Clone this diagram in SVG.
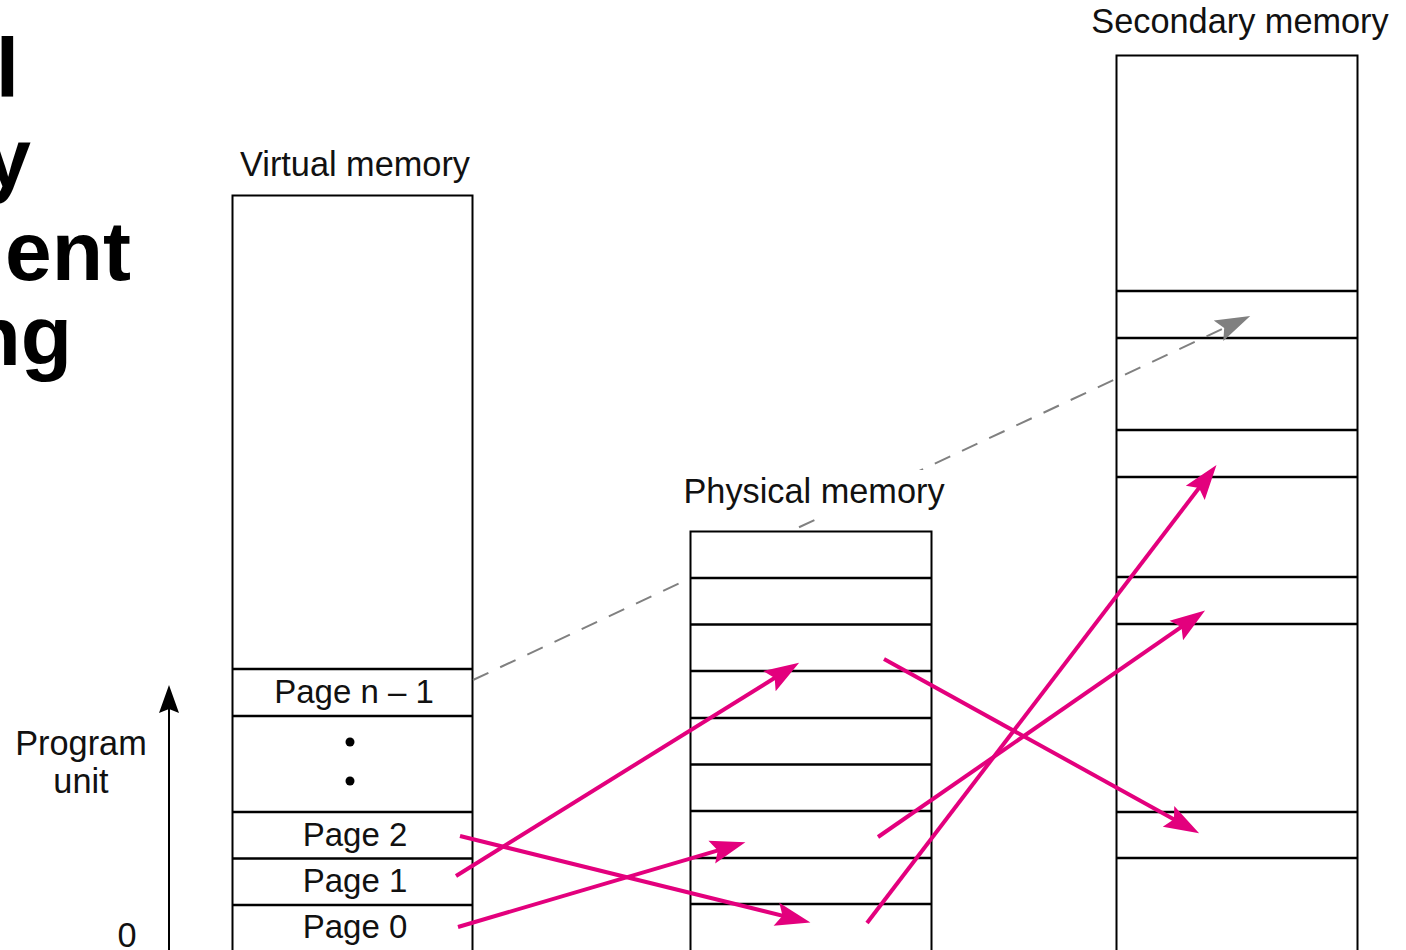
<svg xmlns="http://www.w3.org/2000/svg" width="1406" height="950" viewBox="0 0 1406 950">
<defs>
<style>
.box{fill:#ffffff;stroke:#000000;stroke-width:2}
.div{stroke:#000000;stroke-width:2.5}
.lbl{font-family:"Liberation Sans",Arial,sans-serif;font-size:33px;fill:#111111;text-anchor:middle}
.big{font-size:34.3px}
.title{font-family:"Liberation Sans",Arial,sans-serif;font-size:84px;font-weight:bold;fill:#000000;text-anchor:end}
.map{stroke:#E3007D;stroke-width:4;fill:none;marker-end:url(#mag)}
.swap{stroke:#808080;stroke-width:2;stroke-dasharray:17 13;fill:none;marker-end:url(#gray)}
</style>
<mask id="swapmask" maskUnits="userSpaceOnUse" x="0" y="0" width="1406" height="950">
<rect x="0" y="0" width="1406" height="950" fill="#ffffff"/>
<rect x="690" y="531" width="242" height="420" fill="#000000"/>
<rect x="680" y="470" width="268" height="46" fill="#000000"/>
</mask>
<marker id="mag" markerUnits="userSpaceOnUse" markerWidth="40" markerHeight="30" viewBox="0 -12 30 24" refX="18" refY="0" orient="auto">
<path d="M0,-9.5 L28,0 L0,9.5 L5,0 Z" fill="#E3007D"/>
</marker>
<marker id="gray" markerUnits="userSpaceOnUse" markerWidth="40" markerHeight="30" viewBox="0 -12 30 24" refX="18" refY="0" orient="auto">
<path d="M0,-9 L28,0 L0,9 L5,0 Z" fill="#808080"/>
</marker>
<marker id="blk" markerUnits="userSpaceOnUse" markerWidth="30" markerHeight="30" viewBox="0 -12 30 24" refX="18" refY="0" orient="auto">
<path d="M0,-10 L28,0 L0,10 L4,0 Z" fill="#000000"/>
</marker>
</defs>
<rect width="1406" height="950" fill="#ffffff"/>

<g id="title">
<text class="title" x="19" y="97">l</text>
<text class="title" x="31" y="187">y</text>
<text class="title" x="131" y="280">ent</text>
<text class="title" x="72" y="365">ng</text>
</g>

<g id="program-unit">
<text class="lbl big" x="81" y="755">Program</text>
<text class="lbl big" x="81" y="793">unit</text>
<text class="lbl big" x="127" y="947">0</text>
<line x1="169" y1="952" x2="169" y2="695" stroke="#000000" stroke-width="2" marker-end="url(#blk)"/>
</g>

<g id="virtual-memory">
<text class="lbl big" x="355" y="176">Virtual memory</text>
<rect class="box" x="232.5" y="195.5" width="240" height="770"/>
<line class="div" x1="232" y1="669" x2="473" y2="669"/>
<line class="div" x1="232" y1="716" x2="473" y2="716"/>
<line class="div" x1="232" y1="812" x2="473" y2="812"/>
<line class="div" x1="232" y1="858.5" x2="473" y2="858.5"/>
<line class="div" x1="232" y1="905" x2="473" y2="905"/>
<text class="lbl" x="354" y="703">Page n – 1</text>
<circle cx="350" cy="742" r="4.5" fill="#000000"/>
<circle cx="350" cy="781" r="4.5" fill="#000000"/>
<text class="lbl" x="355" y="846">Page 2</text>
<text class="lbl" x="355" y="892">Page 1</text>
<text class="lbl" x="355" y="938">Page 0</text>
</g>

<g id="physical-memory">
<text class="lbl big" x="814" y="503">Physical memory</text>
<rect class="box" x="690.5" y="531.5" width="241" height="430"/>
<line class="div" x1="690" y1="578" x2="932" y2="578"/>
<line class="div" x1="690" y1="624.5" x2="932" y2="624.5"/>
<line class="div" x1="690" y1="671" x2="932" y2="671"/>
<line class="div" x1="690" y1="718" x2="932" y2="718"/>
<line class="div" x1="690" y1="764.5" x2="932" y2="764.5"/>
<line class="div" x1="690" y1="811" x2="932" y2="811"/>
<line class="div" x1="690" y1="858" x2="932" y2="858"/>
<line class="div" x1="690" y1="904" x2="932" y2="904"/>
</g>

<g id="secondary-memory">
<text class="lbl big" x="1240" y="33">Secondary memory</text>
<rect class="box" x="1116.5" y="55.5" width="241" height="910"/>
<line class="div" x1="1116" y1="291" x2="1358" y2="291"/>
<line class="div" x1="1116" y1="338" x2="1358" y2="338"/>
<line class="div" x1="1116" y1="430" x2="1358" y2="430"/>
<line class="div" x1="1116" y1="477" x2="1358" y2="477"/>
<line class="div" x1="1116" y1="577" x2="1358" y2="577"/>
<line class="div" x1="1116" y1="624" x2="1358" y2="624"/>
<line class="div" x1="1116" y1="812" x2="1358" y2="812"/>
<line class="div" x1="1116" y1="858" x2="1358" y2="858"/>
</g>

<g id="connectors">
<line class="swap" x1="473" y1="680" x2="1238.9" y2="321.2" mask="url(#swapmask)"/>
<line class="map" x1="456" y1="876" x2="788.5" y2="669.3"/>
<line class="map" x1="460" y1="836" x2="798.3" y2="919.6"/>
<line class="map" x1="458" y1="927" x2="733.4" y2="845.8"/>
<line class="map" x1="884" y1="659" x2="1188.2" y2="827.2"/>
<line class="map" x1="878" y1="837" x2="1194.8" y2="617.7"/>
<line class="map" x1="867" y1="923" x2="1208.9" y2="475"/>
</g>
</svg>
